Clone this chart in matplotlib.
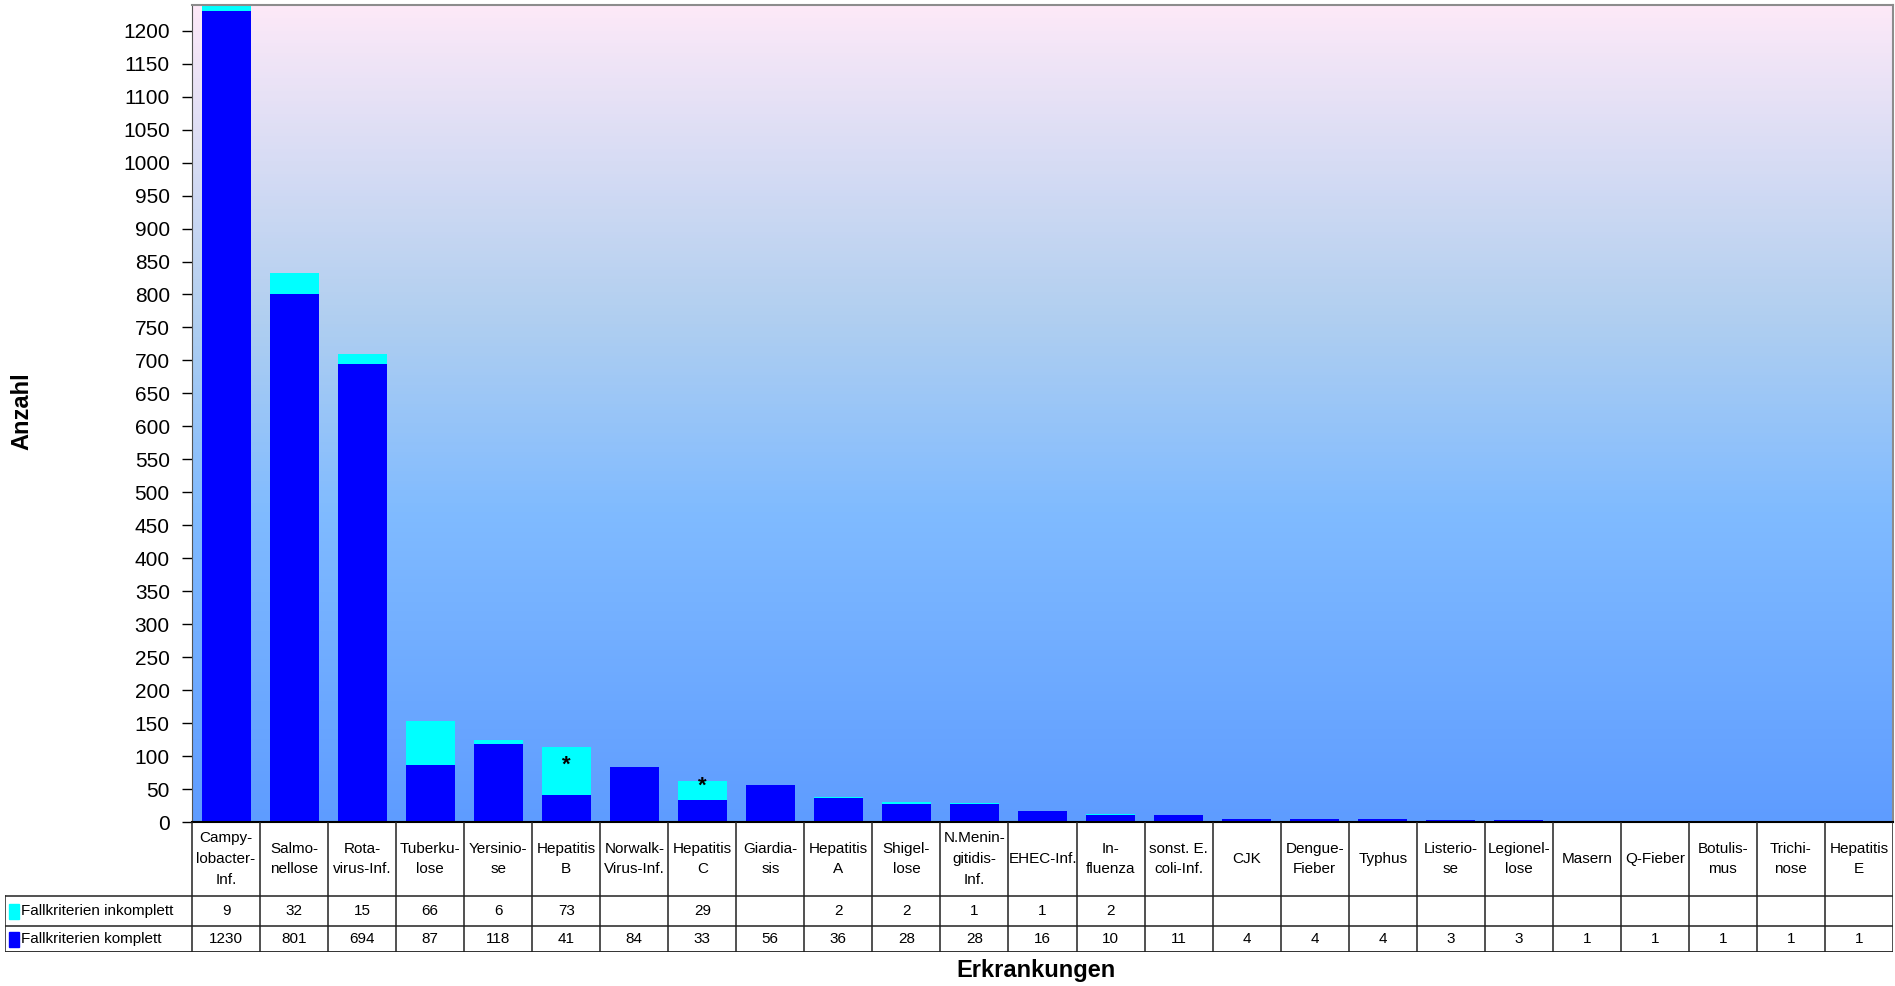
import numpy as np
import matplotlib
matplotlib.use("Agg")
import matplotlib.pyplot as plt
from matplotlib import font_manager
from matplotlib.colors import LinearSegmentedColormap
from matplotlib.patches import Rectangle

# Daten
categories = [
    "Campy-\nlobacter-\nInf.", "Salmo-\nnellose", "Rota-\nvirus-Inf.", "Tuberku-\nlose",
    "Yersinio-\nse", "Hepatitis\nB", "Norwalk-\nVirus-Inf.", "Hepatitis\nC", "Giardia-\nsis",
    "Hepatitis\nA", "Shigel-\nlose", "N.Menin-\ngitidis-\nInf.", "EHEC-Inf.", "In-\nfluenza",
    "sonst. E.\ncoli-Inf.", "CJK", "Dengue-\nFieber", "Typhus", "Listerio-\nse",
    "Legionel-\nlose", "Masern", "Q-Fieber", "Botulis-\nmus", "Trichi-\nnose", "Hepatitis\nE",
]
komplett = [1230, 801, 694, 87, 118, 41, 84, 33, 56, 36, 28, 28, 16, 10, 11,
            4, 4, 4, 3, 3, 1, 1, 1, 1, 1]
inkomplett = [9, 32, 15, 66, 6, 73, None, 29, None, 2, 2, 1, 1, 2, None,
              None, None, None, None, None, None, None, None, None, None]
series_labels = ["Fallkriterien inkomplett", "Fallkriterien komplett"]
star_idx = [5, 7]
star_val = [86, 55]
yticks = list(range(0, 1201, 50))

# Schrift
names = {f.name for f in font_manager.fontManager.ttflist}
narrow = "Liberation Sans Narrow" if "Liberation Sans Narrow" in names else "Liberation Sans"
plt.rcParams["font.family"] = ["Liberation Sans", "DejaVu Sans"]

W, H = 1895, 986
fig = plt.figure(figsize=(W / 100, H / 100), dpi=100)

# Pixelgrenzen
L, R, T, B = 192, 1893, 5, 822
ax = fig.add_axes([L / W, 1 - B / H, (R - L) / W, (B - T) / H])

n = len(categories)
x = np.arange(n)
ink = np.array([v if v is not None else 0 for v in inkomplett])
kom = np.array(komplett)

ymax = (kom + ink).max()
ax.set_xlim(-0.5, n - 0.5)
ax.set_ylim(0, ymax)

# Hintergrundverlauf
cmap = LinearSegmentedColormap.from_list(
    "bg", [(0.0, "#fde9f8"), (0.38, "#b1cff0"), (0.62, "#80bbff"), (1.0, "#5e9cff")])
grad = np.linspace(0, 1, 256).reshape(-1, 1)
ax.imshow(grad, cmap=cmap, aspect="auto", extent=[0, 1, 0, 1],
          transform=ax.transAxes, zorder=0)

ax.bar(x, kom, width=0.72, color="#0000ff", zorder=2)
ax.bar(x, ink, width=0.72, bottom=kom, color="#00ffff", zorder=2)

for i, v in zip(star_idx, star_val):
    ax.text(x[i], v, "*", ha="center", va="center", fontsize=16,
            fontweight="bold", color="black", zorder=3)

ax.set_yticks(yticks)
ax.set_yticklabels([str(t) for t in yticks], fontsize=15)
ax.tick_params(axis="y", direction="out", length=7, width=1, pad=9, colors="black")
ax.set_xticks([])
for s in ["top", "right"]:
    ax.spines[s].set_color("#8c8c8c")
    ax.spines[s].set_linewidth(1.5)
ax.spines["left"].set_color("#555555")
ax.spines["bottom"].set_color("black")
ax.spines["bottom"].set_linewidth(1.5)

# Tabelle unter dem Diagramm
TL, TB = 5, 952
tax = fig.add_axes([TL / W, 1 - TB / H, (R - TL) / W, (TB - B) / H])
unit = (R - L) / n
x_left = -0.5 - (L - TL) / unit
tax.set_xlim(x_left, n - 0.5)
tax.set_ylim(TB, B)  # Pixelzeilen, nach unten wachsend
tax.axis("off")

y_head, y_r1, y_r2 = B, 896, 926
lc = "#222222"
# vertikale Linien
for k in range(n + 1):
    tax.plot([k - 0.5, k - 0.5], [y_head, TB], color=lc, lw=1.1, solid_capstyle="butt")
tax.plot([x_left, x_left], [y_r1, TB], color=lc, lw=1.1)
# horizontale Linien
tax.plot([x_left, n - 0.5], [y_r1, y_r1], color=lc, lw=1.1)
tax.plot([x_left, n - 0.5], [y_r2, y_r2], color=lc, lw=1.1)
tax.plot([x_left, n - 0.5], [TB, TB], color=lc, lw=1.3)

fs = 11
for i, c in enumerate(categories):
    tax.text(i, (y_head + y_r1) / 2, c, ha="center", va="center", fontsize=fs,
             family=narrow, linespacing=1.6)
    if inkomplett[i] is not None:
        tax.text(i, (y_r1 + y_r2) / 2, str(inkomplett[i]), ha="center", va="center",
                 fontsize=fs, family=narrow)
    tax.text(i, (y_r2 + TB) / 2, str(komplett[i]), ha="center", va="center",
             fontsize=fs, family=narrow)

# Legendenspalte
sq = 10 / unit
for (y0, y1), lab, col in [((y_r1, y_r2), series_labels[0], "#00ffff"),
                           ((y_r2, TB), series_labels[1], "#0000ff")]:
    yc = (y0 + y1) / 2
    tax.add_patch(Rectangle((x_left + 4 / unit, yc + 8), sq, -15, color=col))
    tax.text(x_left + 16 / unit, yc, lab, ha="left", va="center", fontsize=fs,
             family=narrow)

fig.text(22 / W, 1 - 411 / H, "Anzahl", rotation=90, ha="center", va="center",
         fontsize=17, fontweight="bold")
fig.text(1036 / W, 1 - 970 / H, "Erkrankungen", ha="center", va="center",
         fontsize=17, fontweight="bold")

fig.savefig("out.png", dpi=100)
